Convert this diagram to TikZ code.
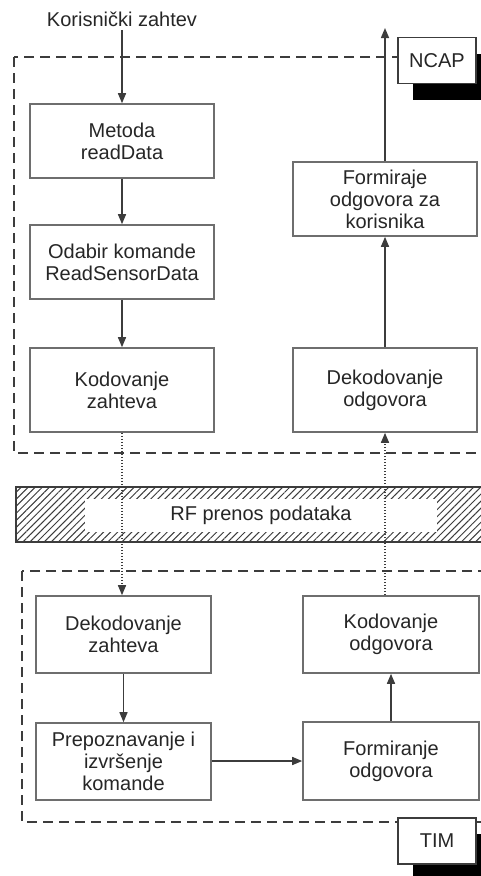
\documentclass[tikz,border=0pt]{standalone}
\usepackage{fontspec}
\setmainfont{Liberation Sans}
\usetikzlibrary{arrows.meta, patterns.meta, shadows, positioning}

\definecolor{okvir}{HTML}{6E6E6E}
\definecolor{linija}{HTML}{3C3C3C}

\begin{document}
\begin{tikzpicture}[x=1pt, y=-1pt,
  blok/.style={draw=okvir, line width=1.6pt, fill=white, align=center, inner sep=0pt,
    font=\fontsize{20}{22}\selectfont, text=black!85},
  tok/.style={draw=linija, line width=1.5pt, -{Triangle[length=10pt,width=8pt]}},
  tacke/.style={tok, dash pattern=on 1.5pt off 1.5pt},
  crtice/.style={draw=linija, line width=1.5pt, dash pattern=on 10pt off 6pt},
  oznaka/.style={draw=linija, line width=1.5pt, fill=white, minimum width=78pt, minimum height=46pt,
    font=\fontsize{20}{22}\selectfont, text=black!85,
    drop shadow={shadow xshift=15pt, shadow yshift=-16pt, fill=black, opacity=1}}]
\useasboundingbox (0,0) rectangle (480,876);

% granice NCAP i TIM
\draw [crtice] (14,57) rectangle (492,453);
\draw [crtice] (22,571) rectangle (492,822);

% RF prenos
\draw [draw=linija, line width=1.5pt, pattern={Lines[angle=45, distance=5pt, line width=1pt]}, pattern color=linija]
  (16,487) rectangle (495,542);
\fill [white] (85,499) rectangle (437,532);
\node [font=\fontsize{20}{22}\selectfont, text=black!85] (rf) at (261,515) {RF prenos podataka};

% NCAP
\node [font=\fontsize{20}{22}\selectfont, text=black!85] (zahtev) at (122,19) {Korisnički zahtev};
\node [blok, minimum width=184pt, minimum height=74pt] (metoda) at (122,141) {Metoda\\readData};
\node [blok, minimum width=184pt, minimum height=74pt] (odabir) at (122,262) {Odabir komande\\ReadSensorData};
\node [blok, minimum width=184pt, minimum height=84pt] (kodZahtev) at (122,390) {Kodovanje\\zahteva};
\node [blok, minimum width=184pt, minimum height=74pt] (formKorisnik) at (385,199) {Formiraje\\odgovora za\\korisnika};
\node [blok, minimum width=184pt, minimum height=84pt] (dekOdgovor) at (385,390) {Dekodovanje\\odgovora};
\coordinate (izlaz) at (385,28);
\node [oznaka] (ncap) at (437,60.5) {NCAP};

% TIM
\node [blok, minimum width=175pt, minimum height=77pt] (dekZahtev) at (123.5,634.5) {Dekodovanje\\zahteva};
\node [blok, minimum width=175pt, minimum height=77pt] (prepoznavanje) at (123.5,761.5) {Prepoznavanje i\\izvršenje\\komande};
\node [blok, minimum width=176pt, minimum height=77pt] (kodOdgovor) at (391,634.5) {Kodovanje\\odgovora};
\node [blok, minimum width=176pt, minimum height=78pt] (formOdgovor) at (391,761) {Formiranje\\odgovora};
\node [oznaka] (tim) at (437,841) {TIM};

% tok podataka
\draw [tok] (zahtev.south) -- (metoda.north);
\draw [tok] (metoda) -- (odabir);
\draw [tok] (odabir) -- (kodZahtev);
\draw [tacke] (kodZahtev.south) -- (kodZahtev.south |- dekZahtev.north);
\draw [tok] (dekZahtev.south -| prepoznavanje.north) -- (prepoznavanje.north);
\draw [tok] (prepoznavanje.east |- formOdgovor.west) -- (formOdgovor.west);
\draw [tok] (formOdgovor) -- (kodOdgovor);
\draw [tacke] (kodOdgovor.north -| dekOdgovor.south) -- (dekOdgovor.south);
\draw [tok] (dekOdgovor) -- (formKorisnik);
\draw [tok] (formKorisnik.north) -- (izlaz);
\end{tikzpicture}
\end{document}
